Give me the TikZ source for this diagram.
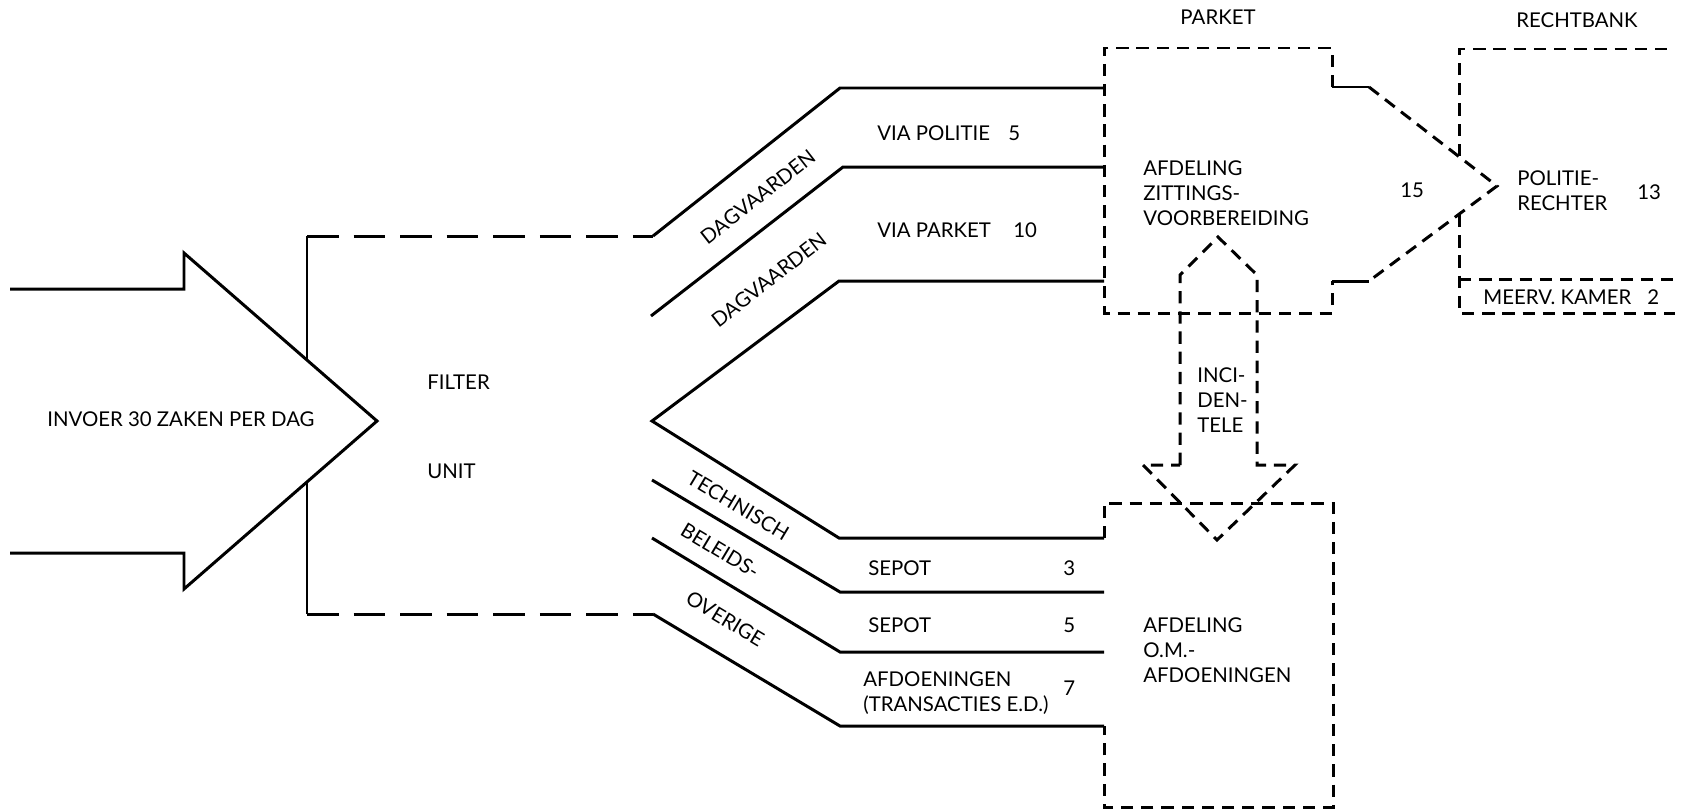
\documentclass[tikz,border=0pt]{standalone}
\usepackage{fontspec}
\setmainfont{Lato}
\newcommand{\lblfont}{\fontsize{11.6pt}{14.2pt}\selectfont}

\begin{document}
\begin{tikzpicture}[x=0.02cm,y=-0.02cm,
		flow/.style={line width=1.7pt},
		widedash/.style={flow,dash pattern=on 18pt off 8.5pt},
		narrowdash/.style={flow,dash pattern=on 7pt off 4.5pt},
		lbl/.style={anchor=west,inner sep=0pt,text height=8pt,text depth=0pt,font=\lblfont},
		blk/.style={anchor=west,inner sep=0pt,align=left,font=\lblfont},
		slant/.style={inner sep=0pt,text height=8pt,text depth=0pt,font=\lblfont}]
		\useasboundingbox (0,0) rectangle (1681,809);
		
		% Input arrow
		\draw[flow] (10,289) -- (184,289) -- (184,253) -- (377,421) -- (184,589) -- (184,553) -- (10,553);
		
		% Filter unit
		\draw[flow] (307,360) -- (307,236);
		\draw[widedash] (307,236) -- (653,236);
		\draw[flow] (307,482) -- (307,614);
		\draw[widedash] (307,614) -- (653,614);
		
		% Channels
		\draw[flow] (653,236) -- (840,88) -- (1104,88);
		\draw[flow] (651,316) -- (843,167) -- (1104,167);
		\draw[flow] (1104,281) -- (839,281) -- (652,421) -- (839,538) -- (1104,538);
		\draw[flow] (652,480) -- (840,592) -- (1104,592);
		\draw[flow] (652,538) -- (840,652) -- (1104,652);
		\draw[flow] (653,614) -- (840,726) -- (1104,726);
		
		% Parket
		\draw[narrowdash] (1332,87) -- (1332,48) -- (1104,48) -- (1104,313) -- (1332,313) -- (1332,281);
		\draw[flow] (1332,87) -- (1369,87);
		\draw[flow] (1332,281) -- (1369,281);
		\draw[narrowdash] (1369,87) -- (1497,186) -- (1369,281);
		
		% Rechtbank
		\draw[narrowdash] (1459,156) -- (1459,49) -- (1675,49);
		\draw[narrowdash] (1459,215) -- (1459,313) -- (1675,313);
		\draw[narrowdash] (1459,279) -- (1675,279);
		
		% Incidentele
		\draw[narrowdash] (1180,465) -- (1180,275) -- (1218,237) -- (1257,275) -- (1257,465) -- (1295,465) -- (1217,540) -- (1143,465) -- cycle;
		
		% OM afdoeningen
		\draw[narrowdash] (1104,538) -- (1104,503) -- (1333,503) -- (1333,807) -- (1104,807) -- (1104,726);
		
		% Nodes
		\node[lbl] (invoer) at (47,419) {INVOER 30 ZAKEN PER DAG};
		\node[lbl] (filter) at (427,382) {FILTER};
		\node[lbl] (unit) at (427,471) {UNIT};
		\node[slant,rotate=38] (dagpol) at (758,197) {DAGVAARDEN};
		\node[slant,rotate=38] (dagpar) at (769,280) {DAGVAARDEN};
		\node[lbl] (viapol) at (877,133) {VIA POLITIE};
		\node[lbl] (nviapol) at (1008,133) {5};
		\node[lbl] (viapar) at (877,230) {VIA PARKET};
		\node[lbl] (nviapar) at (1013,230) {10};
		\node[slant,rotate=-31] (techn) at (738,506) {TECHNISCH};
		\node[slant,rotate=-31] (beleid) at (720,551) {BELEIDS-};
		\node[slant,rotate=-31] (overig) at (725,619) {OVERIGE};
		\node[lbl] (sepot1) at (868,568) {SEPOT};
		\node[lbl] (nsepot1) at (1063,568) {3};
		\node[lbl] (sepot2) at (868,625) {SEPOT};
		\node[lbl] (nsepot2) at (1063,625) {5};
		\node[blk] (afdoen) at (863,693) {AFDOENINGEN\\(TRANSACTIES E.D.)};
		\node[lbl] (nafdoen) at (1063,688) {7};
		\node[slant] (parket) at (1218,17) {PARKET};
		\node[slant] (rechtbank) at (1577,20) {RECHTBANK};
		\node[blk] (zitting) at (1143,193) {AFDELING\\ZITTINGS-\\VOORBEREIDING};
		\node[lbl] (nzitting) at (1400,190) {15};
		\node[blk] (politie) at (1517,191) {POLITIE-\\RECHTER};
		\node[lbl] (npolitie) at (1637,192) {13};
		\node[lbl] (meerv) at (1483,297) {MEERV. KAMER};
		\node[lbl] (nmeerv) at (1647,297) {2};
		\node[blk] (inci) at (1197,400) {INCI-\\DEN-\\TELE};
		\node[blk] (om) at (1143,650) {AFDELING\\O.M.-\\AFDOENINGEN};
\end{tikzpicture}
\end{document}
